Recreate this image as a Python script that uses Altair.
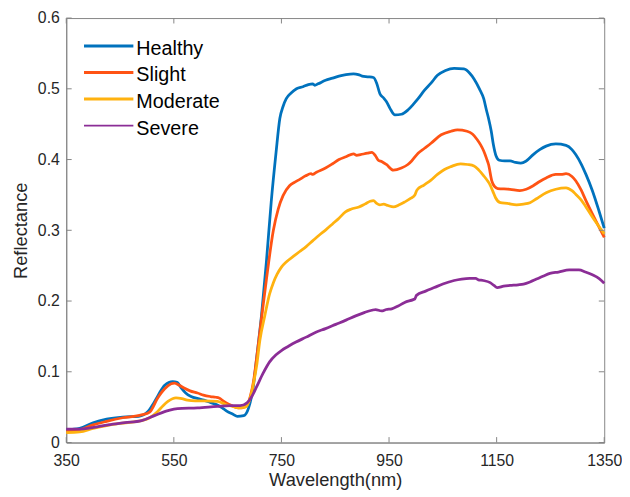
import altair as alt
import pandas as pd

series = ["Healthy", "Slight", "Moderate", "Severe"]
colors = ["#0072BD", "#FF5314", "#FFB20F", "#8B2D96"]

wl_healthy = [350, 375, 400, 425, 455, 485, 502, 512, 521, 533, 548, 556, 563, 572, 582, 595, 606, 620, 631, 640,
              649, 660, 668, 680, 689, 698, 704, 713, 722, 731, 740, 747, 753, 759, 768, 778, 790, 800, 808, 812,
              818, 832, 845, 857, 870, 884, 893, 900, 910, 921, 927, 933, 940, 945, 952, 961, 973, 985, 995, 1004,
              1016, 1028, 1040, 1055, 1071, 1089, 1100, 1108, 1118, 1126, 1131, 1135, 1140, 1144, 1149, 1155, 1165,
              1175, 1185, 1195, 1205, 1218, 1230, 1242, 1260, 1279, 1290, 1297, 1307, 1316, 1328, 1340, 1350]
refl_healthy = [0.018, 0.020, 0.028, 0.033, 0.036, 0.037, 0.044, 0.055, 0.067, 0.081, 0.086, 0.085, 0.078, 0.070,
                0.065, 0.062, 0.060, 0.056, 0.053, 0.049, 0.044, 0.040, 0.037, 0.038, 0.049, 0.081, 0.12, 0.18,
                0.255, 0.34, 0.41, 0.458, 0.475, 0.486, 0.494, 0.500, 0.503, 0.506, 0.507, 0.505, 0.507, 0.512,
                0.515, 0.518, 0.520, 0.521, 0.520, 0.518, 0.517, 0.516, 0.508, 0.493, 0.487, 0.482, 0.472, 0.463,
                0.464, 0.470, 0.478, 0.486, 0.498, 0.508, 0.519, 0.526, 0.529, 0.528, 0.522, 0.514, 0.500, 0.486,
                0.470, 0.458, 0.440, 0.421, 0.405, 0.399, 0.398, 0.398, 0.396, 0.395, 0.398, 0.407, 0.414, 0.419,
                0.422, 0.420, 0.414, 0.407, 0.394, 0.379, 0.356, 0.328, 0.303]

wl_slight = [350, 375, 400, 425, 455, 490, 505, 520, 533, 545, 551, 560, 569, 580, 594, 605, 618, 628, 634, 643,
             652, 661, 670, 677, 686, 692, 698, 704, 712, 722, 735, 744, 753, 765, 775, 784, 795, 805, 808, 815,
             832, 845, 857, 870, 884, 890, 897, 910, 918, 925, 930, 937, 945, 958, 973, 985, 992, 1004, 1016, 1028,
             1047, 1065, 1077, 1095, 1105, 1114, 1120, 1126, 1131, 1135, 1141, 1146, 1152, 1175, 1193, 1205, 1218,
             1230, 1242, 1260, 1270, 1279, 1290, 1297, 1307, 1316, 1334, 1350]
refl_slight = [0.016, 0.018, 0.025, 0.030, 0.035, 0.039, 0.043, 0.063, 0.076, 0.083, 0.084, 0.081, 0.077, 0.073,
               0.070, 0.067, 0.065, 0.064, 0.063, 0.058, 0.054, 0.051, 0.049, 0.049, 0.053, 0.065, 0.086, 0.12,
               0.17, 0.230, 0.300, 0.330, 0.349, 0.363, 0.368, 0.372, 0.377, 0.380, 0.379, 0.382, 0.388, 0.394,
               0.400, 0.404, 0.408, 0.406, 0.407, 0.409, 0.410, 0.405, 0.399, 0.397, 0.393, 0.385, 0.388, 0.393,
               0.398, 0.409, 0.416, 0.423, 0.435, 0.440, 0.442, 0.440, 0.436, 0.428, 0.421, 0.412, 0.402, 0.393,
               0.370, 0.362, 0.359, 0.358, 0.356, 0.358, 0.363, 0.369, 0.374, 0.379, 0.379, 0.380, 0.376, 0.370,
               0.357, 0.342, 0.314, 0.290]

wl_moderate = [350, 375, 400, 425, 450, 490, 505, 520, 530, 539, 554, 565, 575, 590, 606, 631, 640, 649, 660, 670,
               683, 692, 698, 704, 710, 719, 728, 735, 742, 750, 760, 772, 784, 796, 808, 820, 833, 845, 857, 869,
               880, 894, 905, 915, 921, 927, 933, 940, 948, 958, 969, 979, 990, 998, 1002, 1015, 1028, 1040, 1053,
               1065, 1083, 1096, 1108, 1117, 1126, 1133, 1138, 1143, 1148, 1157, 1170, 1187, 1200, 1212, 1225, 1242,
               1260, 1279, 1290, 1297, 1307, 1316, 1334, 1350]
refl_moderate = [0.014, 0.015, 0.020, 0.024, 0.027, 0.031, 0.035, 0.044, 0.052, 0.058, 0.063, 0.062, 0.060, 0.059,
                 0.059, 0.058, 0.056, 0.053, 0.051, 0.049, 0.050, 0.063, 0.083, 0.109, 0.145, 0.179, 0.210, 0.226,
                 0.238, 0.248, 0.256, 0.263, 0.270, 0.277, 0.285, 0.293, 0.301, 0.309, 0.317, 0.326, 0.330, 0.333,
                 0.337, 0.341, 0.342, 0.338, 0.336, 0.337, 0.335, 0.333, 0.336, 0.340, 0.345, 0.350, 0.357, 0.364,
                 0.371, 0.379, 0.386, 0.390, 0.394, 0.393, 0.391, 0.385, 0.377, 0.370, 0.364, 0.355, 0.346, 0.339,
                 0.338, 0.336, 0.337, 0.339, 0.345, 0.353, 0.358, 0.360, 0.356, 0.351, 0.343, 0.333, 0.312, 0.295]

wl_severe = [350, 375, 398, 428, 459, 490, 514, 539, 557, 594, 631, 655, 673, 686, 695, 704, 716, 728, 740, 750,
             763, 777, 796, 814, 832, 851, 870, 888, 905, 918, 925, 936, 945, 955, 967, 979, 995, 998, 1001, 1018,
             1034, 1050, 1071, 1085, 1100, 1111, 1116, 1125, 1138, 1145, 1151, 1163, 1175, 1190, 1200, 1212, 1224,
             1236, 1249, 1265, 1285, 1303, 1315, 1328, 1340, 1350]
refl_severe = [0.019, 0.019, 0.021, 0.025, 0.028, 0.031, 0.038, 0.045, 0.048, 0.049, 0.051, 0.052, 0.052, 0.056,
               0.065, 0.079, 0.098, 0.114, 0.124, 0.130, 0.136, 0.142, 0.149, 0.156, 0.161, 0.167, 0.173, 0.179,
               0.184, 0.187, 0.188, 0.186, 0.188, 0.189, 0.193, 0.198, 0.202, 0.203, 0.208, 0.214, 0.219, 0.224,
               0.229, 0.231, 0.232, 0.232, 0.230, 0.229, 0.226, 0.222, 0.219, 0.221, 0.222, 0.223, 0.224, 0.227,
               0.231, 0.235, 0.239, 0.241, 0.244, 0.244, 0.241, 0.237, 0.232, 0.225]

x_ticks = [350, 550, 750, 950, 1150, 1350]
y_ticks = [0, 0.1, 0.2, 0.3, 0.4, 0.5, 0.6]

rows = []
for k, (name, wl, rf) in enumerate(zip(series,
                                       [wl_healthy, wl_slight, wl_moderate, wl_severe],
                                       [refl_healthy, refl_slight, refl_moderate, refl_severe])):
    for w, r in zip(wl, rf):
        rows.append({"series": name, "wl": w, "r": r, "k": k})
df = pd.DataFrame(rows)

W, H = 545, 430
FRAME = "#858585"
TXT = "#262626"
FONT = "Liberation Sans"

xscale = alt.Scale(domain=[350, 1350], nice=False, zero=False)
yscale = alt.Scale(domain=[0, 0.6], nice=False, zero=False)

lines = alt.Chart(df).mark_line(strokeWidth=2.8, interpolate="monotone").encode(
    x=alt.X("wl:Q", scale=xscale,
            axis=alt.Axis(values=x_ticks, format="d", title="Wavelength(nm)", labelFlush=False, labelPadding=10,
                          titleBaseline="alphabetic", titleY=44, titleX=W / 2)),
    y=alt.Y("r:Q", scale=yscale,
            axis=alt.Axis(values=y_ticks, title="Reflectance", format="~g", labelPadding=7,
                          titleBaseline="alphabetic", titleX=-40.5, titleY=H / 2, titleAngle=-90)),
    color=alt.Color("series:N", scale=alt.Scale(domain=series, range=colors), legend=None),
    detail="k:N",
    order="wl:Q",
)

xt = pd.DataFrame({"wl": x_ticks})
yt = pd.DataFrame({"r": y_ticks})
tick_layers = [
    alt.Chart(xt).mark_rule(color=FRAME, strokeWidth=1).encode(
        x=alt.X("wl:Q", scale=xscale), y=alt.value(H), y2=alt.value(H - 5.5)),
    alt.Chart(xt).mark_rule(color=FRAME, strokeWidth=1).encode(
        x=alt.X("wl:Q", scale=xscale), y=alt.value(0), y2=alt.value(5.5)),
    alt.Chart(yt).mark_rule(color=FRAME, strokeWidth=1).encode(
        y=alt.Y("r:Q", scale=yscale), x=alt.value(0), x2=alt.value(5.5)),
    alt.Chart(yt).mark_rule(color=FRAME, strokeWidth=1).encode(
        y=alt.Y("r:Q", scale=yscale), x=alt.value(W), x2=alt.value(W - 5.5)),
]

legend_layers = []
leg_widths = [3, 3, 3, 1.6]
for i, (name, col) in enumerate(zip(series, colors)):
    ly = 28.3 + 26.9 * i
    ldf = pd.DataFrame({"series": [name]})
    legend_layers.append(
        alt.Chart(ldf).mark_rule(color=col, strokeWidth=leg_widths[i]).encode(
            x=alt.value(18), x2=alt.value(68), y=alt.value(ly)))
    legend_layers.append(
        alt.Chart(ldf).mark_text(align="left", baseline="alphabetic", fontSize=20, font=FONT, color="#000000").encode(
            x=alt.value(71), y=alt.value(ly + 9), text="series:N"))

chart = alt.layer(lines, *tick_layers, *legend_layers).properties(
    width=W, height=H,
    padding={"left": 59, "top": 7, "right": 18, "bottom": 52},
    autosize=alt.AutoSizeParams(type="none"),
).configure_view(
    stroke=FRAME, strokeWidth=1
).configure_axis(
    grid=False, ticks=False, domainColor=FRAME, domainWidth=1,
    labelFont=FONT, labelFontSize=16, labelColor=TXT,
    titleFont=FONT, titleFontSize=18.5, titleFontWeight="normal", titleColor=TXT,
)

chart.save("out.html", embed_options={"renderer": "svg", "actions": False})
